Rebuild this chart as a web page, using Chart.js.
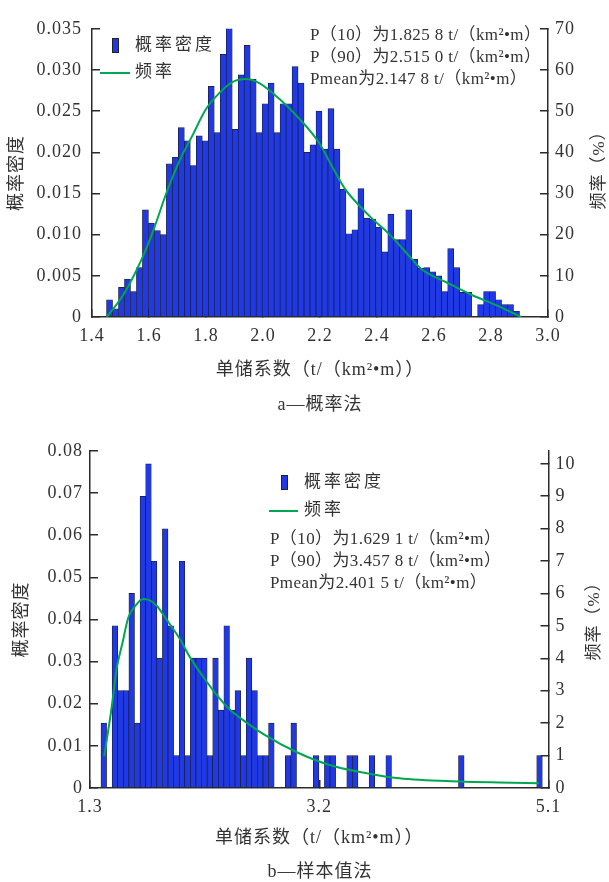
<!DOCTYPE html>
<html>
<head>
<meta charset="utf-8">
<script src="https://cdn.jsdelivr.net/npm/chart.js@4.4.1/dist/chart.umd.min.js"></script>
<style>
  html, body { margin: 0; padding: 0; background: #fff; }
  #wrap { position: relative; width: 609px; height: 882px; }
  canvas { position: absolute; left: 0; }
  #chart-a { top: 0; width: 609px; height: 425px; }
  #chart-b { top: 425px; width: 609px; height: 457px; }
</style>
</head>
<body>
<div id="wrap">
  <canvas id="chart-a" width="609" height="425"></canvas>
  <canvas id="chart-b" width="609" height="457"></canvas>
</div>
<script>
// ---- a: 概率法 — density histogram + frequency curve ----
const binStartA = 1.451;
const binWidthA = 0.021;
const densityA = [
  0.0021, 0.0010, 0.0036, 0.0046, 0.0031, 0.0060, 0.0130, 0.0114, 0.0105, 0.0100,
  0.0186, 0.0194, 0.0230, 0.0214, 0.0184, 0.0220, 0.0214, 0.0280, 0.0224, 0.0319,
  0.0353, 0.0228, 0.0294, 0.0330, 0.0289, 0.0224, 0.0259, 0.0284, 0.0224, 0.0259,
  0.0259, 0.0304, 0.0284, 0.0200, 0.0209, 0.0250, 0.0204, 0.0253, 0.0204, 0.0155,
  0.0101, 0.0106, 0.0156, 0.0120, 0.0119, 0.0109, 0.0079, 0.0125, 0.0094, 0.0094,
  0.0130, 0.0070, 0.0059, 0.0060, 0.0055, 0.0050, 0.0031, 0.0083, 0.0060, 0.0030,
  0.0030, 0, 0.0015, 0.0031, 0.0031, 0.0021, 0.0015, 0.0015, 0.0007,
];
const curveAx = [1.452, 1.51, 1.574, 1.615, 1.662, 1.708, 1.754, 1.80, 1.847, 1.894, 1.94, 1.987, 2.057,
  2.127, 2.196, 2.243, 2.289, 2.336, 2.383, 2.442, 2.50, 2.557, 2.65, 2.731, 2.824, 2.905];
const curveAy = [0, 5.4, 14.0, 21.0, 30.3, 38.1, 44.3, 50.5, 54.4, 57.1, 57.8, 56.8, 53.0,
  48.2, 42.4, 36.5, 31.0, 27.2, 23.9, 20.2, 15.8, 11.6, 8.2, 5.4, 2.7, 0];
const notesA = ['P（10）为1.825 8 t/（km²•m）', 'P（90）为2.515 0 t/（km²•m）', 'Pmean为2.147 8 t/（km²•m）'];

// ---- b: 样本值法 ----
const binStartB = 1.391;
const binWidthB = 0.0463;
const densityB = [
  0.0154, 0, 0.0385, 0.0231, 0.0231, 0.0462, 0.0154, 0.0692, 0.0769, 0.0538,
  0.0308, 0.0615, 0.0385, 0.0077, 0.0538, 0.0077, 0.0308, 0.0308, 0.0308, 0.0077,
  0.0308, 0.0185, 0.0385, 0.0185, 0.0231, 0.0077, 0.0308, 0.0231, 0.0077, 0.0077,
  0.0154, 0, 0, 0.0077, 0.0154, 0, 0, 0, 0.0077, 0,
  0.0077, 0.0077, 0, 0, 0.0077, 0.0077, 0, 0, 0.0077, 0,
  0, 0.0077, 0, 0, 0, 0, 0, 0, 0, 0,
  0, 0, 0, 0, 0.0077, 0, 0, 0, 0, 0,
  0, 0, 0, 0, 0, 0, 0, 0, 0.0077,
];
const curveBx = [1.418, 1.479, 1.521, 1.570, 1.617, 1.672, 1.741, 1.782, 1.851, 1.934, 2.044, 2.127,
  2.238, 2.348, 2.458, 2.541, 2.734, 3.01, 3.285, 3.561, 3.864, 4.36, 4.69, 5.02];
const curveBy = [0.98, 2.47, 3.68, 4.49, 5.25, 5.6, 5.83, 5.81, 5.63, 5.2, 4.6, 4.04,
  3.43, 2.88, 2.42, 2.17, 1.67, 1.11, 0.71, 0.48, 0.3, 0.2, 0.17, 0.15];
const notesB = ['P（10）为1.629 1 t/（km²•m）', 'P（90）为3.457 8 t/（km²•m）', 'Pmean为2.401 5 t/（km²•m）'];

const X_TITLE = '单储系数（t/（km²•m））';
const LEFT_TITLE = '概率密度';
const RIGHT_TITLE = '频率（%）';
const LEGEND = ['概率密度', '频率'];

const INK = '#333';
const AXIS = '#2b2b2b';
const BLUE = '#1f39e6';
const GREEN = '#00a651';
const SERIF = "'Liberation Serif', 'Noto Sans CJK SC', serif";

const binCenters = (start, w, n) => Array.from({ length: n }, (_, i) => start + w * (i + 0.5));

function text(ctx, s, x, y, size, { align = 'left', ls = 0, rot = 0 } = {}) {
  ctx.save();
  ctx.font = `${size}px ${SERIF}`;
  ctx.fillStyle = INK;
  ctx.letterSpacing = `${ls}px`;
  ctx.textAlign = align;
  ctx.textBaseline = 'middle';
  ctx.translate(x, y);
  if (rot) ctx.rotate(rot);
  ctx.fillText(s, 0, 0);
  ctx.restore();
}

// legend, stats block, right-hand title and caption
const notesPlugin = {
  id: 'notes',
  beforeDraw(chart) { chart.ctx.letterSpacing = '1px'; },
  afterDraw(chart, args, o) {
    const ctx = chart.ctx;
    ctx.save();
    ctx.letterSpacing = '0px';
    ctx.fillStyle = BLUE;
    ctx.fillRect(o.box[0], o.box[1], 7, 15);
    ctx.strokeStyle = '#222';
    ctx.lineWidth = 1;
    ctx.strokeRect(o.box[0] + 0.5, o.box[1] + 0.5, 6, 14);
    ctx.strokeStyle = GREEN;
    ctx.lineWidth = 2;
    ctx.beginPath();
    ctx.moveTo(o.line[0], o.line[2]);
    ctx.lineTo(o.line[1], o.line[2]);
    ctx.stroke();
    ctx.restore();
    text(ctx, LEGEND[0], o.legendX, o.box[1] + 8, 17, { ls: 3 });
    text(ctx, LEGEND[1], o.legendX, o.line[2], 17, { ls: 3 });
    o.stats.forEach((s, i) => text(ctx, s, o.statsX, o.statsY[i], 17, { ls: 0.4 }));
    text(ctx, RIGHT_TITLE, o.rightTitle[0], o.rightTitle[1], 17, { align: 'center', rot: -Math.PI / 2, ls: 1 });
    text(ctx, o.caption, o.captionXY[0], o.captionXY[1], 18, { align: 'center', ls: 1 });
  },
};

function build(canvas, cfg) {
  const tickFont = { family: SERIF, size: 18 };
  const tickMarks = { display: true, drawOnChartArea: false, drawTicks: true, tickLength: -8, offset: false, color: AXIS, lineWidth: 1.5 };
  const border = { display: true, color: AXIS, width: 1.5 };
  return new Chart(canvas, {
    data: {
      datasets: [
        {
          type: 'bar',
          label: LEGEND[0],
          data: cfg.centers.map((x, i) => ({ x, y: cfg.density[i] })),
          xAxisID: 'x', yAxisID: 'y',
          backgroundColor: BLUE, borderColor: '#1a1a28', borderWidth: 0.7,
          grouped: false, barPercentage: 1, categoryPercentage: 1, order: 1,
        },
        {
          type: 'line',
          label: LEGEND[1],
          data: cfg.cx.map((x, i) => ({ x, y: cfg.cy[i] })),
          xAxisID: 'xl', yAxisID: 'yr',
          borderColor: GREEN, borderWidth: 2, pointRadius: 0,
          cubicInterpolationMode: 'monotone', order: 0,
        },
      ],
    },
    options: {
      responsive: false,
      animation: false,
      layout: { padding: { top: cfg.top, left: 0, right: 0, bottom: 0 } },
      plugins: { legend: { display: false }, tooltip: { enabled: false }, notes: cfg.notes },
      scales: {
        x: {
          type: 'linear', position: 'bottom', min: cfg.xMin, max: cfg.xMax, offset: false, z: 1,
          ticks: { stepSize: cfg.xStep, color: INK, font: tickFont, padding: cfg.xPad, maxRotation: 0, callback: (v) => v.toFixed(1) },
          grid: tickMarks, border,
          title: { display: true, text: X_TITLE, color: INK, font: { family: SERIF, size: 18 }, padding: { top: 0, bottom: cfg.xTitlePad } },
          afterFit: (s) => { s.height = cfg.xHeight; },
        },
        xl: { type: 'linear', display: false, offset: false, min: cfg.xMin, max: cfg.xMax },
        y: {
          position: 'left', min: 0, max: cfg.yMax, z: 1,
          ticks: { stepSize: cfg.yStep, color: INK, font: tickFont, padding: cfg.yPad, callback: (v) => (v === 0 ? '0' : v.toFixed(cfg.yDigits)) },
          grid: tickMarks, border,
          title: { display: true, text: LEFT_TITLE, color: INK, font: { family: SERIF, size: 18 }, padding: { top: cfg.yTitlePad, bottom: 0 } },
          afterFit: (s) => { s.width = cfg.leftW; },
        },
        yr: {
          position: 'right', min: 0, max: cfg.rMax, z: 1,
          ticks: { stepSize: cfg.rStep, includeBounds: false, color: INK, font: tickFont, padding: 15, callback: (v) => String(v) },
          grid: tickMarks, border,
          afterFit: (s) => { s.width = cfg.rightW; },
        },
      },
    },
    plugins: [notesPlugin],
  });
}

build(document.getElementById('chart-a'), {
  centers: binCenters(binStartA, binWidthA, densityA.length), density: densityA, cx: curveAx, cy: curveAy,
  top: 16, xMin: 1.4, xMax: 3.0, xStep: 0.2, xPad: 16, xHeight: 108, xTitlePad: 44,
  yMax: 0.035, yStep: 0.005, yDigits: 3, yPad: 18, yTitlePad: 6, leftW: 92,
  rMax: 70, rStep: 10, rightW: 61,
  notes: {
    box: [112, 38], line: [100, 130, 73], legendX: 135,
    stats: notesA, statsX: 310, statsY: [36, 58, 80],
    rightTitle: [600, 166], caption: 'a—概率法', captionXY: [320, 405],
  },
});

build(document.getElementById('chart-b'), {
  centers: binCenters(binStartB, binWidthB, densityB.length), density: densityB, cx: curveBx, cy: curveBy,
  top: 20, xMin: 1.3, xMax: 5.1, xStep: 1.9, xPad: 16, xHeight: 94, xTitlePad: 33,
  yMax: 0.08, yStep: 0.01, yDigits: 2, yPad: 15, yTitlePad: 11, leftW: 90,
  rMax: 10.4, rStep: 1, rightW: 60.5,
  notes: {
    box: [281, 50], line: [269, 298, 86], legendX: 304,
    stats: notesB, statsX: 270, statsY: [115, 137, 159],
    rightTitle: [595, 192], caption: 'b—样本值法', captionXY: [320, 447],
  },
});
</script>
</body>
</html>
